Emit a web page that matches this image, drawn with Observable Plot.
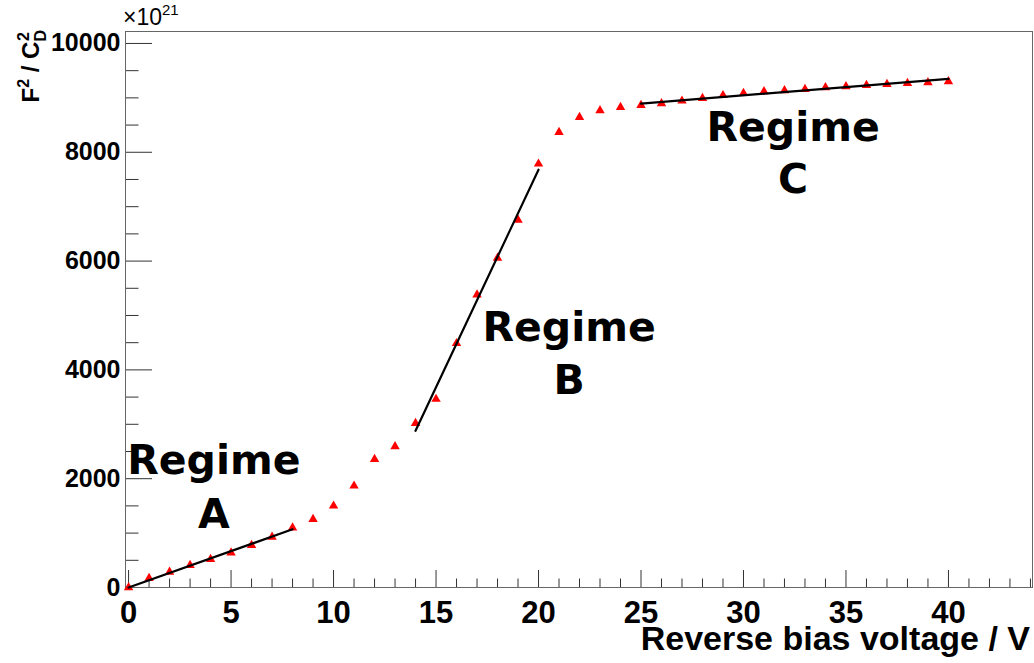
<!DOCTYPE html>
<html>
<head>
<meta charset="utf-8">
<script src="https://cdn.jsdelivr.net/npm/d3@7"></script>
<script src="https://cdn.jsdelivr.net/npm/@observablehq/plot@0.6"></script>
<style>
  html, body { margin: 0; padding: 0; background: #fff; }
  #chart svg { display: block; }
</style>
</head>
<body>
<div id="chart"></div>
<script>
// ---- data ----
const voltage = [0,1,2,3,4,5,6,7,8,9,10,11,12,13,14,15,16,17,18,19,20,21,22,23,24,25,26,27,28,29,30,31,32,33,34,35,36,37,38,39,40];
const f2c2 = [0,170,285,408,519,640,776,929,1100,1255,1500,1868,2359,2591,3018,3463,4487,5382,6057,6756,7787,8368,8644,8767,8828,8865,8896,8945,8994,9046,9086,9117,9135,9160,9190,9209,9233,9252,9270,9282,9300];

const fitAx = [0, 8],   fitAy = [0, 1070];
const fitBx = [14, 20], fitBy = [2880, 7680];
const fitCx = [25, 40], fitCy = [8895, 9350];

const regimeX = [4.16, 4.16, 21.49, 21.49, 32.42, 32.42];
const regimeY = [2094, 1100, 4523, 3560, 8215, 7259];
const regimeText = ["Regime", "A", "Regime", "B", "Regime", "C"];

const xTickLabels = [0, 5, 10, 15, 20, 25, 30, 35, 40];
const xMinorTicks = d3.range(0, 45, 1);
const yTickLabels = [0, 2000, 4000, 6000, 8000, 10000];
const yMinorTicks = d3.range(0, 10001, 500);

const xTitle = "Reverse bias voltage / V";
const exponentText = "21";

// ---- build ----
const points = voltage.map((v, i) => ({x: v, y: f2c2[i]}));
const fitA = fitAx.map((v, i) => ({x: v, y: fitAy[i]}));
const fitB = fitBx.map((v, i) => ({x: v, y: fitBy[i]}));
const fitC = fitCx.map((v, i) => ({x: v, y: fitCy[i]}));
const labels = regimeX.map((v, i) => ({x: v, y: regimeY[i], text: regimeText[i]}));

const W = 1034, H = 663;
const mL = 125, mR = 2, mT = 31, mB = 76;
const frameH = H - mT - mB, frameW = W - mL - mR;
const tickColor = "#333";
const labelFont = "'Liberation Sans', Arial, sans-serif";

const chart = Plot.plot({
  width: W, height: H,
  marginLeft: mL, marginRight: mR, marginTop: mT, marginBottom: mB,
  style: {fontFamily: labelFont, background: "#fff"},
  x: {domain: [-0.15, 44.1], axis: null},
  y: {domain: [0, 10220], axis: null},
  marks: [
    // ticks inside the frame
    Plot.tickX(xMinorTicks.filter(d => d % 5 !== 0), {x: d => d, stroke: tickColor, insetTop: frameH - 8.5}),
    Plot.tickX(xTickLabels, {x: d => d, stroke: tickColor, insetTop: frameH - 17}),
    Plot.tickY(yMinorTicks.filter(d => d % 2000 !== 0), {y: d => d, stroke: tickColor, insetRight: frameW - 13.5}),
    Plot.tickY(yTickLabels, {y: d => d, stroke: tickColor, insetRight: frameW - 27}),
    Plot.frame({stroke: "#666"}),
    // tick labels
    Plot.text(xTickLabels, {x: d => d, text: d => String(d), frameAnchor: "bottom", lineAnchor: "top",
      dy: 13, fontSize: 31, fontWeight: "bold", fontFamily: labelFont, fill: "black"}),
    Plot.text(yTickLabels, {y: d => d, text: d => String(d), frameAnchor: "left", textAnchor: "end",
      dx: -5, fontSize: 25, fontWeight: "bold", fontFamily: labelFont, fill: "black"}),
    // data
    Plot.dot(points, {x: "x", y: "y", symbol: "triangle", r: 3.5, fill: "#ff0000", stroke: "none"}),
    Plot.line(fitA, {x: "x", y: "y", stroke: "black", strokeWidth: 2.2}),
    Plot.line(fitB, {x: "x", y: "y", stroke: "black", strokeWidth: 2.2}),
    Plot.line(fitC, {x: "x", y: "y", stroke: "black", strokeWidth: 2.2}),
    Plot.text(labels, {x: "x", y: "y", text: "text", fontSize: 41, fontWeight: "bold",
      fontFamily: "'DejaVu Sans', sans-serif", textAnchor: "middle", lineAnchor: "bottom", fill: "black"})
  ]
});

const svg = d3.select(chart);

// x-axis title
svg.append("text")
  .attr("x", 1030).attr("y", 650)
  .attr("text-anchor", "end")
  .attr("font-family", labelFont)
  .attr("font-weight", "bold")
  .attr("font-size", 34)
  .attr("fill", "black")
  .text(xTitle);

// y-axis title F^2 / C_D^2
const yt = svg.append("text")
  .attr("transform", "translate(39,30) rotate(-90)")
  .attr("text-anchor", "end")
  .attr("font-family", labelFont)
  .attr("font-weight", "bold")
  .attr("font-size", 24)
  .attr("fill", "black");
yt.append("tspan").text("F");
yt.append("tspan").attr("font-size", 16).attr("dy", -10).text("2");
yt.append("tspan").attr("dy", 10).text(" / C");
yt.append("tspan").attr("font-size", 16).attr("dy", 7).text("D");
yt.append("tspan").attr("font-size", 16).attr("dx", -11).attr("dy", -17).text("2");

// exponent ×10^21
const ex = svg.append("text")
  .attr("x", 123).attr("y", 25)
  .attr("text-anchor", "start")
  .attr("font-family", labelFont)
  .attr("font-size", 23)
  .attr("fill", "black");
ex.append("tspan").text("\u00d710");
ex.append("tspan").attr("font-size", 15).attr("dy", -10).text(exponentText);

document.getElementById("chart").appendChild(chart);
</script>
</body>
</html>
